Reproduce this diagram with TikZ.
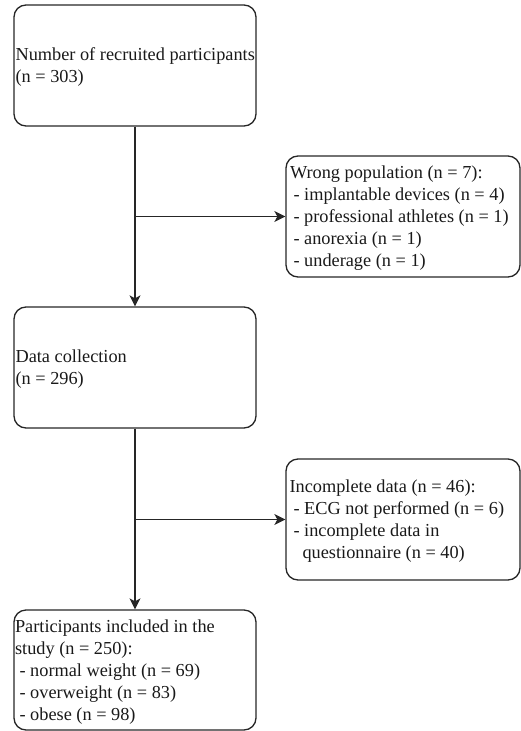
\documentclass[tikz,border=0pt]{standalone}
\usepackage{fontspec}
\setmainfont{Liberation Serif}
\newfontfamily\refserif{Liberation Serif}
\usetikzlibrary{arrows.meta}
\begin{document}
\begin{tikzpicture}[x=1pt,y=-1pt,
  box/.style={draw=black!85, line width=1.3pt, rounded corners=12pt, rectangle, inner sep=0pt},
  lbox/.style={box, minimum width=242pt, minimum height=121pt},
  rbox/.style={box, minimum width=234pt, minimum height=121pt},
  txt/.style={anchor=west, inner sep=0pt, align=left, font=\refserif\fontsize{18.3}{22}\selectfont, text=black!90},
  conn/.style={draw=black!85, line width=1.3pt, -{Stealth[length=11pt,width=11pt,inset=3pt]}}
]
\useasboundingbox (0,0) rectangle (521,731);

\node[lbox] (b1) at (135,65.5) {};
\node[lbox] (b2) at (135,367.5) {};
\node[lbox, minimum height=120pt] (b3) at (135,670) {};
\node[rbox] (w1) at (403,216.5) {};
\node[rbox] (w2) at (403,519.5) {};

\node[txt] (t1) at ([xshift=2pt,yshift=-2pt]b1.west) {Number of recruited participants\\(n = 303)};
\node[txt] (t2) at ([xshift=2pt,yshift=-1.5pt]b2.west) {Data collection\\(n = 296)};
\node[txt] (t3) at ([xshift=1.5pt,yshift=-2pt]b3.west) {Participants included in the\\study (n = 250):\\\hspace*{4.5pt}- normal weight (n = 69)\\\hspace*{4.5pt}- overweight (n = 83)\\\hspace*{4.5pt}- obese (n = 98)};
\node[txt] (t4) at ([xshift=4.5pt,yshift=-1.5pt]w1.west) {Wrong population (n = 7):\\\hspace*{3.5pt}- implantable devices (n = 4)\\\hspace*{3.5pt}- professional athletes (n = 1)\\\hspace*{3.5pt}- anorexia (n = 1)\\\hspace*{3.5pt}- underage (n = 1)};
\node[txt] (t5) at ([xshift=4pt,yshift=-1.5pt]w2.west) {Incomplete data (n = 46):\\\hspace*{4pt}- ECG not performed (n = 6)\\\hspace*{4pt}- incomplete data in\\\hspace*{13pt}questionnaire (n = 40)};

\coordinate (j1) at (b1.south |- w1.west);
\coordinate (j2) at (b2.south |- w2.west);

\draw[conn] (b1.south) -- (b2.north);
\draw[conn] (j1) -- (w1.west);
\draw[conn] (b2.south) -- (b3.north);
\draw[conn] (j2) -- (w2.west);
\end{tikzpicture}
\end{document}
